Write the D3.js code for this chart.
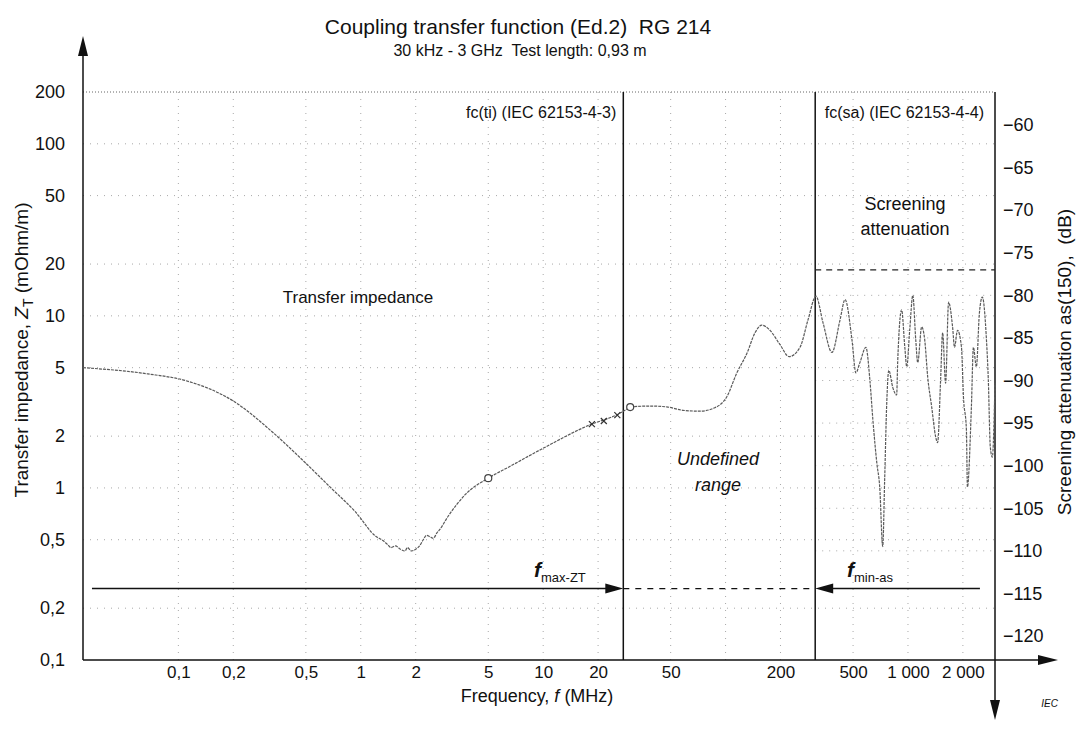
<!DOCTYPE html>
<html>
<head>
<meta charset="utf-8">
<script src="https://cdn.jsdelivr.net/npm/d3@7"></script>
<style>
  html, body { margin: 0; padding: 0; background: #fff; }
  svg { display: block; font-family: "Liberation Sans", Arial, sans-serif; }
</style>
</head>
<body>
<svg id="chart" width="1079" height="729"></svg>
<script>
// ---------------- DATA ----------------
const freqTicks = [0.1, 0.2, 0.5, 1, 2, 5, 10, 20, 50, 200, 500, 1000, 2000];
const freqTickLabels = ["0,1", "0,2", "0,5", "1", "2", "5", "10", "20", "50", "200", "500", "1 000", "2 000"];
const ztTicks = [0.1, 0.2, 0.5, 1, 2, 5, 10, 20, 50, 100, 200];
const ztTickLabels = ["0,1", "0,2", "0,5", "1", "2", "5", "10", "20", "50", "100", "200"];
const asTicks = [-60, -65, -70, -75, -80, -85, -90, -95, -100, -105, -110, -115, -120];

// Transfer impedance curve (MHz, mOhm/m)
const ztFreq = [0.03, 0.068, 0.11, 0.2, 0.33, 0.49, 0.68, 0.93, 1.22, 1.3, 1.4, 1.46, 1.55, 1.65, 1.75, 1.8, 1.9, 2.0, 2.1, 2.2, 2.29, 2.4, 2.5, 2.62, 2.7, 3.0, 3.76, 5.0, 6.45, 10.1, 17.4, 26, 30];
const ztValues = [5.0, 4.6, 4.2, 3.2, 2.1, 1.42, 1.01, 0.73, 0.52, 0.50, 0.47, 0.45, 0.46, 0.44, 0.43, 0.45, 0.43, 0.44, 0.46, 0.50, 0.53, 0.52, 0.51, 0.55, 0.57, 0.68, 0.92, 1.14, 1.32, 1.71, 2.29, 2.7, 2.95];

// Screening attenuation curve (MHz, dB)
const asFreq = [30, 38.4, 47.6, 58.3, 72.2, 87.3, 101.6, 115.3, 131, 145, 158, 175, 199, 223, 256, 283, 313, 342, 383, 424, 452, 493, 518, 545, 588, 618, 642, 675, 700, 727, 745, 765, 785, 825, 867, 878, 923, 961, 985, 1022, 1063, 1103, 1131, 1189, 1235, 1283, 1349, 1418, 1454, 1510, 1549, 1608, 1670, 1756, 1800, 1869, 1965, 2014, 2091, 2118, 2227, 2284, 2371, 2463, 2557, 2688, 2757, 2827, 2900, 3000];
const asValues = [-93.1, -93.0, -93.1, -93.5, -93.6, -93.2, -91.9, -89.1, -86.8, -84.4, -83.5, -84.1, -85.8, -87.2, -86.1, -82.9, -80.1, -83.2, -86.7, -82.9, -80.5, -85.2, -89.1, -87.9, -86.1, -89.9, -94.6, -99.7, -102.5, -109.5, -101.7, -92.6, -88.8, -90.8, -91.7, -87.9, -81.7, -86.1, -88.4, -84.1, -80.0, -85.2, -87.9, -83.7, -85.2, -89.6, -93.1, -96.6, -97.3, -89.9, -84.4, -90.3, -80.8, -83.7, -86.1, -84.1, -86.1, -91.9, -95.8, -102.5, -93.1, -86.1, -88.4, -82.1, -80.2, -84.9, -89.9, -97.8, -99.0, -90.3];

// marker points on the transfer impedance curve
const circleFreq = [5.0, 30];
const circleZt = [1.14, 2.95];
const crossFreq = [18.5, 21.5, 25.5];
const crossZt = [2.35, 2.45, 2.65];

// cut-off frequencies (MHz) and limit levels
const fcTi = 27.5;
const fcSa = 310;
const asLimit = -77;          // dB, dashed line in screening region
const arrowLevelZt = 0.26;    // mOhm/m, level of f_max-ZT / f_min-as arrows
const arrowStartFreq = 0.0336;
const arrowEndFreq = 2480;

// ---------------- CHART ----------------
const svg = d3.select("#chart");
const x = d3.scaleLog().domain([0.03, 3000]).range([83, 995]);
const yZ = d3.scaleLog().domain([0.1, 200]).range([660, 92]);
const yDb = d3.scaleLinear().domain([-120, -60]).range([636, 125]);

const [xL, xR] = x.range();
const [yB, yT] = yZ.range();

// gridlines (dotted, faint)
const grid = svg.append("g").attr("stroke", "#a8a8a8").attr("stroke-width", 1)
  .attr("stroke-dasharray", "1,6").attr("fill", "none");
grid.selectAll(".hg").data(ztTicks.slice(1, -1)).join("line")
  .attr("x1", xL).attr("x2", xR).attr("y1", d => yZ(d)).attr("y2", d => yZ(d));
grid.selectAll(".vg").data(freqTicks.concat([100])).join("line")
  .attr("y1", yT).attr("y2", yB).attr("x1", d => x(d)).attr("x2", d => x(d));
grid.selectAll(".dg").data(asTicks.filter(d => d <= -80 && d >= -110)).join("line")
  .attr("x1", x(fcSa)).attr("x2", xR).attr("y1", d => yDb(d)).attr("y2", d => yDb(d));

// top dotted border
svg.append("line").attr("x1", xL).attr("x2", xR).attr("y1", yT).attr("y2", yT)
  .attr("stroke", "#666").attr("stroke-dasharray", "1,2");

// axes
const fmtMinus = d => String(d).replace("-", "\u2212");
const gx = svg.append("g").attr("transform", `translate(0,${yB})`)
  .call(d3.axisBottom(x).tickValues(freqTicks).tickFormat((d, i) => freqTickLabels[i]).tickSize(0).tickPadding(6));
const gyl = svg.append("g").attr("transform", `translate(${xL},0)`)
  .call(d3.axisLeft(yZ).tickValues(ztTicks).tickFormat((d, i) => ztTickLabels[i]).tickSize(0).tickPadding(18));
const gyr = svg.append("g").attr("transform", `translate(${xR},0)`)
  .call(d3.axisRight(yDb).tickValues(asTicks).tickFormat(fmtMinus).tickSize(0).tickPadding(8));
[gx, gyl, gyr].forEach(g => {
  g.select(".domain").remove();
  g.selectAll("text").attr("font-size", 18).attr("fill", "#111")
    .attr("font-family", "'Liberation Sans', Arial, sans-serif");
});
gx.selectAll("text").attr("font-size", 17);

// axis lines with arrows
const ax = svg.append("g").attr("stroke", "#111").attr("stroke-width", 1.5);
ax.append("line").attr("x1", xL).attr("x2", xL).attr("y1", yB).attr("y2", 42);
ax.append("line").attr("x1", xL).attr("x2", 1050).attr("y1", yB).attr("y2", yB);
ax.append("line").attr("x1", xR).attr("x2", xR).attr("y1", yT).attr("y2", 712);
const heads = svg.append("g").attr("fill", "#111");
heads.append("path").attr("d", `M${xL},36 L${xL - 5},56 L${xL + 5},56 Z`);
heads.append("path").attr("d", `M1058,${yB} L1038,${yB - 5} L1038,${yB + 5} Z`);
heads.append("path").attr("d", `M${xR},720 L${xR - 5},700 L${xR + 5},700 Z`);

// cut-off vertical lines
svg.selectAll(".fc").data([fcTi, fcSa]).join("line")
  .attr("x1", d => x(d)).attr("x2", d => x(d)).attr("y1", yT).attr("y2", yB)
  .attr("stroke", "#111").attr("stroke-width", 1.5);

// limit dashed line
svg.append("line").attr("x1", x(fcSa)).attr("x2", xR)
  .attr("y1", yDb(asLimit)).attr("y2", yDb(asLimit))
  .attr("stroke", "#222").attr("stroke-width", 1.2).attr("stroke-dasharray", "6,5");

// curves
const ztData = ztFreq.map((f, i) => ({ f, v: ztValues[i] }));
const asData = asFreq.map((f, i) => ({ f, v: asValues[i] }));
svg.append("path").datum(ztData)
  .attr("d", d3.line().x(d => x(d.f)).y(d => yZ(d.v)).curve(d3.curveMonotoneX))
  .attr("fill", "none").attr("stroke", "#5a5a5a").attr("stroke-width", 1.2).attr("stroke-dasharray", "3,1");
svg.append("path").datum(asData)
  .attr("d", d3.line().x(d => x(d.f)).y(d => yDb(d.v)).curve(d3.curveMonotoneX))
  .attr("fill", "none").attr("stroke", "#5a5a5a").attr("stroke-width", 1.2).attr("stroke-dasharray", "3,1");

// markers
svg.selectAll(".circ").data(circleFreq).join("circle")
  .attr("cx", d => x(d)).attr("cy", (d, i) => yZ(circleZt[i])).attr("r", 3.5)
  .attr("fill", "#fff").attr("stroke", "#444").attr("stroke-width", 1.2);
svg.selectAll(".cross").data(crossFreq).join("path")
  .attr("transform", (d, i) => `translate(${x(d)},${yZ(crossZt[i])})`)
  .attr("d", "M-3,-3L3,3M-3,3L3,-3").attr("stroke", "#333").attr("stroke-width", 1.2);

// f_max-ZT / f_min-as arrows
const ay = yZ(arrowLevelZt);
const arr = svg.append("g").attr("stroke", "#111").attr("stroke-width", 1.5);
arr.append("line").attr("x1", x(arrowStartFreq)).attr("x2", x(fcTi) - 14).attr("y1", ay).attr("y2", ay);
arr.append("line").attr("x1", x(fcTi)).attr("x2", x(fcSa)).attr("y1", ay).attr("y2", ay)
  .attr("stroke-width", 1.2).attr("stroke-dasharray", "6,6");
arr.append("line").attr("x1", x(fcSa) + 14).attr("x2", x(arrowEndFreq)).attr("y1", ay).attr("y2", ay);
heads.append("path").attr("d", `M${x(fcTi)},${ay} L${x(fcTi) - 18},${ay - 5} L${x(fcTi) - 18},${ay + 5} Z`);
heads.append("path").attr("d", `M${x(fcSa)},${ay} L${x(fcSa) + 18},${ay - 5} L${x(fcSa) + 18},${ay + 5} Z`);
heads.raise();

// ---------------- TEXT ----------------
const T = (txt, px, py, opts = {}) => svg.append("text").attr("x", px).attr("y", py)
  .attr("font-size", opts.size || 16).attr("text-anchor", opts.anchor || "middle")
  .attr("font-style", opts.italic ? "italic" : null).attr("fill", "#111").text(txt);

T("Coupling transfer function (Ed.2)  RG 214", 518, 34, { size: 21 }).attr("xml:space", "preserve");
T("30 kHz - 3 GHz  Test length: 0,93 m", 520, 56, { size: 16 }).attr("xml:space", "preserve");

// x axis title
const xt = svg.append("text").attr("x", 537).attr("y", 702).attr("text-anchor", "middle")
  .attr("font-size", 18).attr("fill", "#111");
xt.append("tspan").text("Frequency, ");
xt.append("tspan").attr("font-style", "italic").text("f");
xt.append("tspan").text(" (MHz)");

// left axis title
const lt = svg.append("text").attr("transform", "translate(28,350) rotate(-90)")
  .attr("text-anchor", "middle").attr("font-size", 19).attr("fill", "#111");
lt.append("tspan").text("Transfer impedance, ");
lt.append("tspan").attr("font-style", "italic").text("Z");
lt.append("tspan").attr("font-size", 14).attr("dy", 5).text("T");
lt.append("tspan").attr("dy", -5).text(" (mOhm/m)");

// right axis title
svg.append("text").attr("transform", "translate(1071,362) rotate(-90)")
  .attr("text-anchor", "middle").attr("font-size", 19).attr("fill", "#111")
  .attr("xml:space", "preserve").text("Screening attenuation as(150),  (dB)");

// annotations
T("fc(ti) (IEC 62153-4-3)", x(fcTi) - 7, 118, { size: 16, anchor: "end" });
T("fc(sa) (IEC 62153-4-4)", xR - 11, 118, { size: 16, anchor: "end" });
T("Transfer impedance", 358, 303, { size: 17 });
T("Screening", 905, 210, { size: 18 });
T("attenuation", 905, 235, { size: 18 });
T("Undefined", 718, 465, { size: 18, italic: true });
T("range", 718, 491, { size: 18, italic: true });

const fm = svg.append("text").attr("x", 534).attr("y", 577).attr("fill", "#111");
fm.append("tspan").attr("font-size", 21).attr("font-weight", "bold").attr("font-style", "italic").text("f");
fm.append("tspan").attr("font-size", 13).attr("dy", 5).text("max-ZT");
const fn = svg.append("text").attr("x", 847).attr("y", 577).attr("fill", "#111");
fn.append("tspan").attr("font-size", 21).attr("font-weight", "bold").attr("font-style", "italic").text("f");
fn.append("tspan").attr("font-size", 13).attr("dy", 5).text("min-as");

T("IEC", 1058, 707, { size: 10, italic: true, anchor: "end" });
</script>
</body>
</html>
